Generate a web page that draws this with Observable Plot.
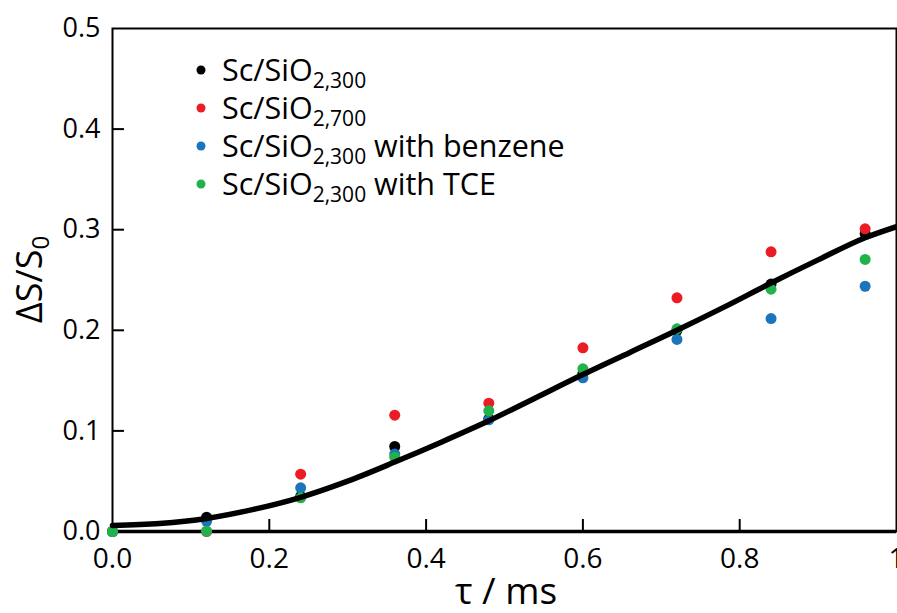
<!DOCTYPE html>
<html>
<head>
<meta charset="utf-8">
<script src="https://cdn.jsdelivr.net/npm/d3@7"></script>
<script src="https://cdn.jsdelivr.net/npm/@observablehq/plot@0.6"></script>
<style>
  html, body { margin: 0; padding: 0; background: #fff; }
  #chart { position: relative; width: 897px; height: 613px; }
</style>
</head>
<body>
<div id="chart"></div>
<script>
// ---- data ----
const tau = [0, 0.12, 0.24, 0.36, 0.48, 0.6, 0.72, 0.84, 0.96];
const sc300 = [0, 0.0142, 0.035, 0.0845, 0.112, 0.157, 0.200, 0.246, 0.296];
const sc700 = [0, 0.0, 0.057, 0.1156, 0.1275, 0.1826, 0.2323, 0.278, 0.3009];
const sc300Benzene = [0, 0.0102, 0.0434, 0.077, 0.111, 0.1528, 0.1909, 0.2117, 0.2438];
const sc300TCE = [0, 0.0003, 0.0335, 0.0739, 0.120, 0.1617, 0.2015, 0.2409, 0.2704];

const seriesNames = ["Sc/SiO2,300", "Sc/SiO2,700", "Sc/SiO2,300 with benzene", "Sc/SiO2,300 with TCE"];
const seriesColors = ["#000000", "#ec1c24", "#1b75bb", "#22b24c"];
const seriesValues = [sc300, sc700, sc300Benzene, sc300TCE];
// legend pieces: main text, subscript, trailing text
const legendMain = ["Sc/SiO", "Sc/SiO", "Sc/SiO", "Sc/SiO"];
const legendSub = ["2,300", "2,700", "2,300", "2,300"];
const legendTail = ["", "", " with benzene", " with TCE"];

const fitTau = [0, 0.06, 0.12, 0.18, 0.24, 0.30, 0.36, 0.42, 0.48, 0.54, 0.60, 0.66, 0.72, 0.78, 0.84, 0.90, 0.96, 1.00];
const fitValues = [0.006, 0.008, 0.013, 0.022, 0.034, 0.050, 0.069, 0.089, 0.110, 0.133, 0.156, 0.178, 0.200, 0.223, 0.247, 0.270, 0.292, 0.303];

const xTicks = [0, 0.2, 0.4, 0.6, 0.8, 1];
const xTickLabels = ["0.0", "0.2", "0.4", "0.6", "0.8", "1"];
const yTicks = [0, 0.1, 0.2, 0.3, 0.4, 0.5];
const yTickLabels = ["0.0", "0.1", "0.2", "0.3", "0.4", "0.5"];

// ---- tables ----
const points = [];
seriesNames.forEach((s, i) => tau.forEach((t, j) => points.push({series: s, tau: t, value: seriesValues[i][j]})));
const fit = fitTau.map((t, i) => ({tau: t, value: fitValues[i]}));

const W = 897, H = 613, ML = 112, MR = 1, MT = 28, MB = 82;
const FONT = "'Open Sans', 'Noto Sans', sans-serif";

const chart = Plot.plot({
  width: W, height: H,
  marginLeft: ML, marginRight: MR, marginTop: MT, marginBottom: MB,
  style: {fontFamily: FONT, fontSize: "27px", color: "#000", background: "#fff", overflow: "hidden"},
  x: {domain: [0, 1]},
  y: {domain: [0, 0.5]},
  color: {domain: seriesNames, range: seriesColors},
  marks: [
    Plot.frame({stroke: "#000", strokeWidth: 2}),
    Plot.ruleY([0], {stroke: "#000", strokeWidth: 3.5}),
    Plot.tickY(yTicks.slice(1, -1), {y: d => d, stroke: "#000", strokeWidth: 2, insetRight: (W - ML - MR) - 12}),
    Plot.tickX(xTicks.slice(1, -1), {x: d => d, stroke: "#000", strokeWidth: 2, insetTop: (H - MT - MB) - 12}),
    Plot.axisY(yTicks, {tickSize: 0, tickPadding: 12, tickFormat: (d, i) => yTickLabels[i], fontSize: 27, label: null}),
    Plot.axisX(xTicks, {tickSize: 0, tickPadding: 17, tickFormat: (d, i) => xTickLabels[i], fontSize: 28, label: null}),
    Plot.dot(points, {x: "tau", y: "value", fill: "series", r: 5.5, stroke: "none"}),
    Plot.line(fit, {x: "tau", y: "value", stroke: "#000", strokeWidth: 5.5, curve: "monotone-x"})
  ]
});

document.getElementById("chart").appendChild(chart);

// ---- titles and legend (text with subscripts) ----
const svg = d3.select(chart);
const cx = (ML + (W - MR)) / 2, cy = (MT + (H - MB)) / 2;

const yt = svg.append("text")
  .attr("transform", `translate(42,${cy}) rotate(-90)`)
  .attr("text-anchor", "middle")
  .attr("font-family", FONT).attr("font-size", 36).attr("fill", "#000");
yt.append("tspan").text("ΔS/S");
yt.append("tspan").attr("font-size", 24).attr("dy", 7).text("0");

svg.append("text")
  .attr("x", cx + 2).attr("y", 604)
  .attr("text-anchor", "middle")
  .attr("font-family", FONT).attr("font-size", 37).attr("fill", "#000")
  .text("τ / ms");

const legendY = [70, 108, 146, 184];
seriesNames.forEach((s, i) => {
  svg.append("circle").attr("cx", 201).attr("cy", legendY[i]).attr("r", 4.5).attr("fill", seriesColors[i]);
  const t = svg.append("text")
    .attr("x", 222).attr("y", legendY[i] + 10.5)
    .attr("text-anchor", "start")
    .attr("font-family", FONT).attr("font-size", 30.5).attr("fill", "#000");
  t.append("tspan").text(legendMain[i]);
  t.append("tspan").attr("font-size", 21).attr("dy", 7).text(legendSub[i]);
  if (legendTail[i]) t.append("tspan").attr("dy", -7).text(legendTail[i]);
});
</script>
</body>
</html>
